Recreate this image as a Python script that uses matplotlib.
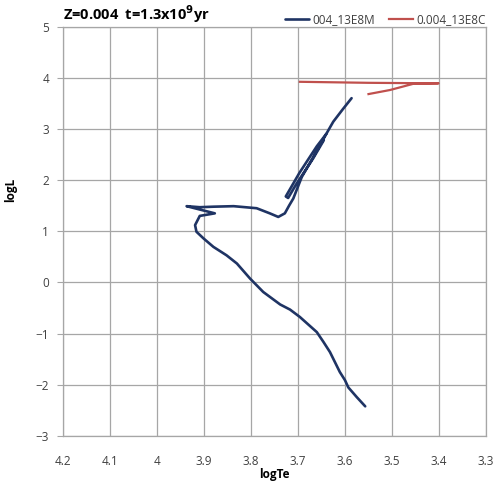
import numpy as np
import matplotlib
matplotlib.use("Agg")
import matplotlib.pyplot as plt

# isochrone Z=0.004, t=1.3e9 yr
# model track: MS from the faint end up to the turnoff, subgiant branch, RGB
logte_m = [3.557, 3.575, 3.593, 3.600, 3.611, 3.632, 3.646, 3.660, 3.696, 3.717,
           3.738, 3.774, 3.802, 3.830, 3.852, 3.880, 3.901, 3.916, 3.919, 3.909,
           3.877, 3.937, 3.909, 3.880, 3.837, 3.788, 3.760, 3.742, 3.728, 3.719,
           3.710, 3.692, 3.675, 3.657, 3.635, 3.625, 3.605, 3.586,
           np.nan,
           3.640, 3.660, 3.697, 3.726, 3.721, 3.703, 3.668, 3.645]
logl_m = [-2.42, -2.24, -2.05, -1.91, -1.75, -1.36, -1.16, -0.97, -0.675, -0.53,
          -0.43, -0.186, 0.076, 0.37, 0.53, 0.695, 0.86, 0.99, 1.12, 1.30,
          1.35, 1.49, 1.47, 1.48, 1.49, 1.45, 1.35, 1.28, 1.35, 1.50,
          1.64, 2.06, 2.33, 2.62, 2.98, 3.14, 3.38, 3.60,
          np.nan,
          2.90, 2.66, 2.14, 1.68, 1.65, 1.93, 2.42, 2.78]

# comparison track
logte_c = [3.696, 3.550, 3.401, 3.455, 3.504, 3.550]
logl_c = [3.92, 3.90, 3.89, 3.88, 3.76, 3.68]

xticks = [4.2, 4.1, 4.0, 3.9, 3.8, 3.7, 3.6, 3.5, 3.4, 3.3]
xticklabels = ["4.2", "4.1", "4", "3.9", "3.8", "3.7", "3.6", "3.5", "3.4", "3.3"]
yticks = [-3, -2, -1, 0, 1, 2, 3, 4, 5]

plt.rcParams['font.family'] = ['Open Sans', 'DejaVu Sans']

fig = plt.figure(figsize=(5.0, 4.91), dpi=100)
ax = fig.add_axes([0.126, 0.112, 0.846, 0.834])

ax.plot(logte_m, logl_m, color="#1f3464", lw=1.9, label="004_13E8M",
        solid_joinstyle="round", solid_capstyle="round")
ax.plot(logte_c, logl_c, color="#c0504d", lw=1.6, label="0.004_13E8C",
        solid_joinstyle="round")

ax.set_xlim(4.2, 3.3)
ax.set_ylim(-3, 5)
ax.set_xticks(xticks)
ax.set_xticklabels(xticklabels)
ax.set_yticks(yticks)
ax.grid(True, color="#a6a6a6", lw=0.9)
for s in ax.spines.values():
    s.set_color("#a6a6a6")
    s.set_linewidth(0.9)
ax.tick_params(axis="x", length=0, pad=14, labelsize=8.5)
ax.tick_params(axis="y", length=4, pad=6, labelsize=8.5, colors="#a6a6a6")
for lab in ax.get_xticklabels() + ax.get_yticklabels():
    lab.set_color("#404040")

ax.set_xlabel("logTe", fontsize=8.5, fontweight="bold", labelpad=0)
ax.set_ylabel("logL", fontsize=8.5, fontweight="bold")
ax.yaxis.set_label_coords(-0.109, 0.60)

fig.text(0.126, 0.972, r"Z=0.004  t=1.3x10$^{\mathbf{9}}$yr", fontsize=10.5,
         fontweight="bold", va="center", ha="left")

ax.legend(loc="lower right", bbox_to_anchor=(1.01, 0.99), ncol=2, frameon=False,
          fontsize=8.5, handlelength=2.0, handletextpad=0.3, columnspacing=1.2,
          borderaxespad=0.0, labelcolor="#404040")

fig.savefig("out.png", dpi=100)
